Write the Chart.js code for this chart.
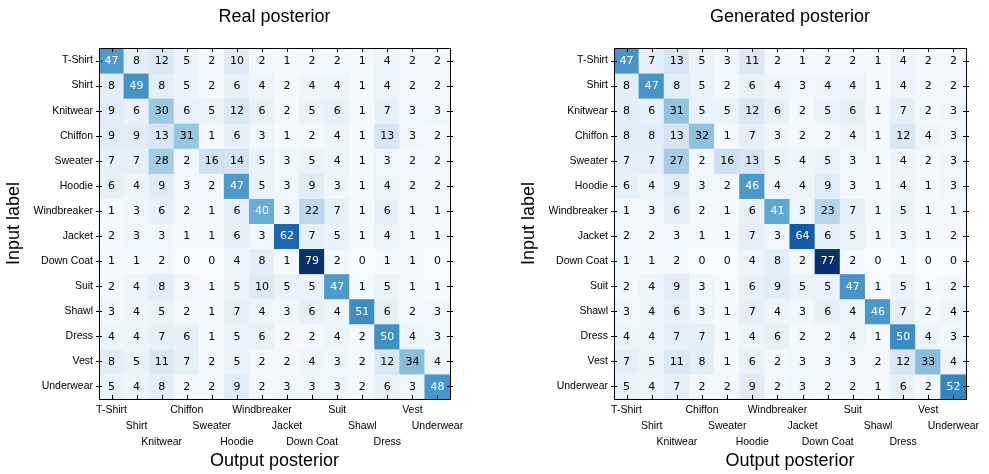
<!DOCTYPE html>
<html>
<head>
<meta charset="utf-8">
<script src="https://cdn.jsdelivr.net/npm/chart.js@4.4.1/dist/chart.umd.min.js"></script>
<style>
  html, body { margin: 0; padding: 0; background: #fff; width: 989px; height: 474px; overflow: hidden; }
  .panel { position: absolute; top: 0; }
</style>
</head>
<body>
<div class="panel" style="left:0"><canvas id="real" width="494" height="474" style="width:494px;height:474px"></canvas></div>
<div class="panel" style="left:494px"><canvas id="gen" width="495" height="474" style="width:495px;height:474px"></canvas></div>
<script>
// Garment classes, used for both the input (rows) and output (columns) axes
const categories = ['T-Shirt', 'Shirt', 'Knitwear', 'Chiffon', 'Sweater', 'Hoodie', 'Windbreaker',
                    'Jacket', 'Down Coat', 'Suit', 'Shawl', 'Dress', 'Vest', 'Underwear'];

// Confusion counts: row = input label, column = output posterior
const realPosterior = [
  [47, 8, 12, 5, 2, 10, 2, 1, 2, 2, 1, 4, 2, 2],
  [8, 49, 8, 5, 2, 6, 4, 2, 4, 4, 1, 4, 2, 2],
  [9, 6, 30, 6, 5, 12, 6, 2, 5, 6, 1, 7, 3, 3],
  [9, 9, 13, 31, 1, 6, 3, 1, 2, 4, 1, 13, 3, 2],
  [7, 7, 28, 2, 16, 14, 5, 3, 5, 4, 1, 3, 2, 2],
  [6, 4, 9, 3, 2, 47, 5, 3, 9, 3, 1, 4, 2, 2],
  [1, 3, 6, 2, 1, 6, 40, 3, 22, 7, 1, 6, 1, 1],
  [2, 3, 3, 1, 1, 6, 3, 62, 7, 5, 1, 4, 1, 1],
  [1, 1, 2, 0, 0, 4, 8, 1, 79, 2, 0, 1, 1, 0],
  [2, 4, 8, 3, 1, 5, 10, 5, 5, 47, 1, 5, 1, 1],
  [3, 4, 5, 2, 1, 7, 4, 3, 6, 4, 51, 6, 2, 3],
  [4, 4, 7, 6, 1, 5, 6, 2, 2, 4, 2, 50, 4, 3],
  [8, 5, 11, 7, 2, 5, 2, 2, 4, 3, 2, 12, 34, 4],
  [5, 4, 8, 2, 2, 9, 2, 3, 3, 3, 2, 6, 3, 48]
];

const generatedPosterior = [
  [47, 7, 13, 5, 3, 11, 2, 1, 2, 2, 1, 4, 2, 2],
  [8, 47, 8, 5, 2, 6, 4, 3, 4, 4, 1, 4, 2, 2],
  [8, 6, 31, 5, 5, 12, 6, 2, 5, 6, 1, 7, 2, 3],
  [8, 8, 13, 32, 1, 7, 3, 2, 2, 4, 1, 12, 4, 3],
  [7, 7, 27, 2, 16, 13, 5, 4, 5, 3, 1, 4, 2, 3],
  [6, 4, 9, 3, 2, 46, 4, 4, 9, 3, 1, 4, 1, 3],
  [1, 3, 6, 2, 1, 6, 41, 3, 23, 7, 1, 5, 1, 1],
  [2, 2, 3, 1, 1, 7, 3, 64, 6, 5, 1, 3, 1, 2],
  [1, 1, 2, 0, 0, 4, 8, 2, 77, 2, 0, 1, 0, 0],
  [2, 4, 9, 3, 1, 6, 9, 5, 5, 47, 1, 5, 1, 2],
  [3, 4, 6, 3, 1, 7, 4, 3, 6, 4, 46, 7, 2, 4],
  [4, 4, 7, 7, 1, 4, 6, 2, 2, 4, 1, 50, 4, 3],
  [7, 5, 11, 8, 1, 6, 2, 3, 3, 3, 2, 12, 33, 4],
  [5, 4, 7, 2, 2, 9, 2, 3, 2, 2, 1, 6, 2, 52]
];

// Sequential "Blues" colour ramp
const BLUES = [[247,251,255],[222,235,247],[198,219,239],[158,202,225],[107,174,214],
               [66,146,198],[33,113,181],[8,81,156],[8,48,107]];
function blues(t) {
  t = Math.max(0, Math.min(1, t));
  const s = t * (BLUES.length - 1);
  const i = Math.min(BLUES.length - 2, Math.floor(s));
  const f = s - i;
  const a = BLUES[i], b = BLUES[i + 1];
  const c = a.map((v, k) => Math.round(v + (b[k] - v) * f));
  return `rgb(${c[0]},${c[1]},${c[2]})`;
}

const SANS = '"Liberation Sans", Arial, sans-serif';

// Writes each cell's count in its centre
const cellValues = {
  id: 'cellValues',
  afterDatasetsDraw(chart, args, opts) {
    const ctx = chart.ctx;
    ctx.save();
    ctx.font = '11px "DejaVu Sans", sans-serif';
    ctx.textAlign = 'center';
    ctx.textBaseline = 'middle';
    chart.data.datasets.forEach((ds, di) => {
      chart.getDatasetMeta(di).data.forEach((bar, ci) => {
        const v = ds.values[ci];
        ctx.fillStyle = v > opts.threshold ? '#ffffff' : '#000000';
        ctx.fillText(String(v), bar.x, (bar.y + bar.base) / 2 + 0.5);
      });
    });
    ctx.restore();
  }
};

// Box around the plot area with tick marks on all four sides
const frameTicks = {
  id: 'frameTicks',
  afterDraw(chart) {
    const { ctx, chartArea: a, scales: { x, y } } = chart;
    ctx.save();
    ctx.strokeStyle = '#000';
    ctx.lineWidth = 1;
    ctx.beginPath();
    for (let i = 0; i < categories.length; i++) {
      const px = Math.round(x.getPixelForTick(i)) + 0.5;
      ctx.moveTo(px, a.top); ctx.lineTo(px, a.top + 4);
      ctx.moveTo(px, a.bottom); ctx.lineTo(px, a.bottom - 4);
      const py = Math.round(y.getPixelForValue(i + 0.5)) + 0.5;
      ctx.moveTo(a.left - 3, py); ctx.lineTo(a.left + 3, py);
      ctx.moveTo(a.right - 3, py); ctx.lineTo(a.right + 3, py);
    }
    ctx.stroke();
    ctx.strokeRect(Math.round(a.left) + 0.5, Math.round(a.top) + 0.5,
                   Math.round(a.right - a.left), Math.round(a.bottom - a.top));
    ctx.restore();
  }
};

function drawMatrix(canvasId, titleText, matrix, layout) {
  const flat = matrix.flat();
  const vmin = Math.min(...flat), vmax = Math.max(...flat);
  const datasets = matrix.map((row, r) => ({
    data: row.map(() => [r, r + 1]),
    values: row,
    backgroundColor: row.map(v => blues((v - vmin) / (vmax - vmin))),
    borderWidth: 0,
    inflateAmount: 0.5,
    barPercentage: 1,
    categoryPercentage: 1,
    grouped: false
  }));

  return new Chart(document.getElementById(canvasId), {
    type: 'bar',
    data: { labels: categories, datasets },
    plugins: [cellValues, frameTicks],
    options: {
      responsive: false,
      animation: false,
      events: [],
      layout: { padding: { left: 0, right: layout.padRight, top: 0, bottom: 0 } },
      plugins: {
        legend: { display: false },
        tooltip: { enabled: false },
        title: {
          display: true,
          fullSize: false,
          text: titleText,
          color: '#000',
          font: { family: SANS, size: 18, weight: 'normal', lineHeight: 1.2 },
          padding: { top: 6.2, bottom: 20.2 }
        },
        cellValues: { threshold: (vmax + vmin) / 2 }
      },
      scales: {
        x: {
          type: 'category',
          offset: true,
          grid: { display: false, drawTicks: false },
          border: { display: false },
          ticks: {
            autoSkip: false,
            maxRotation: 0,
            minRotation: 0,
            padding: 3,
            color: '#000',
            font: { family: SANS, size: 10.5, lineHeight: '16px' },
            // stagger the class names over three rows
            callback: (v, i) => {
              const lines = [];
              for (let k = 0; k < i % 3; k++) lines.push('');
              lines.push(categories[i]);
              return lines;
            }
          },
          title: {
            display: true,
            text: 'Output posterior',
            color: '#000',
            font: { family: SANS, size: 18, weight: 'normal', lineHeight: 1.2 },
            padding: { top: 0, bottom: 2.2 }
          },
          afterFit: s => { s.height = 75; }
        },
        y: {
          type: 'linear',
          min: 0,
          max: categories.length,
          reverse: true,
          afterBuildTicks: s => { s.ticks = categories.map((_, i) => ({ value: i + 0.5 })); },
          grid: { display: false, drawTicks: false },
          border: { display: false },
          ticks: {
            autoSkip: false,
            padding: 6,
            color: '#000',
            font: { family: SANS, size: 10.5 },
            callback: (v, i) => categories[i]
          },
          title: {
            display: true,
            text: 'Input label',
            color: '#000',
            font: { family: SANS, size: 18, weight: 'normal', lineHeight: 1.2 },
            padding: { top: layout.yTitlePad, bottom: 0 }
          },
          afterFit: s => { s.width = layout.yWidth; }
        }
      }
    }
  });
}

drawMatrix('real', 'Real posterior', realPosterior, { yWidth: 99, padRight: 44, yTitlePad: 3.2 });
drawMatrix('gen', 'Generated posterior', generatedPosterior, { yWidth: 120, padRight: 23, yTitlePad: 24 });
</script>
</body>
</html>
